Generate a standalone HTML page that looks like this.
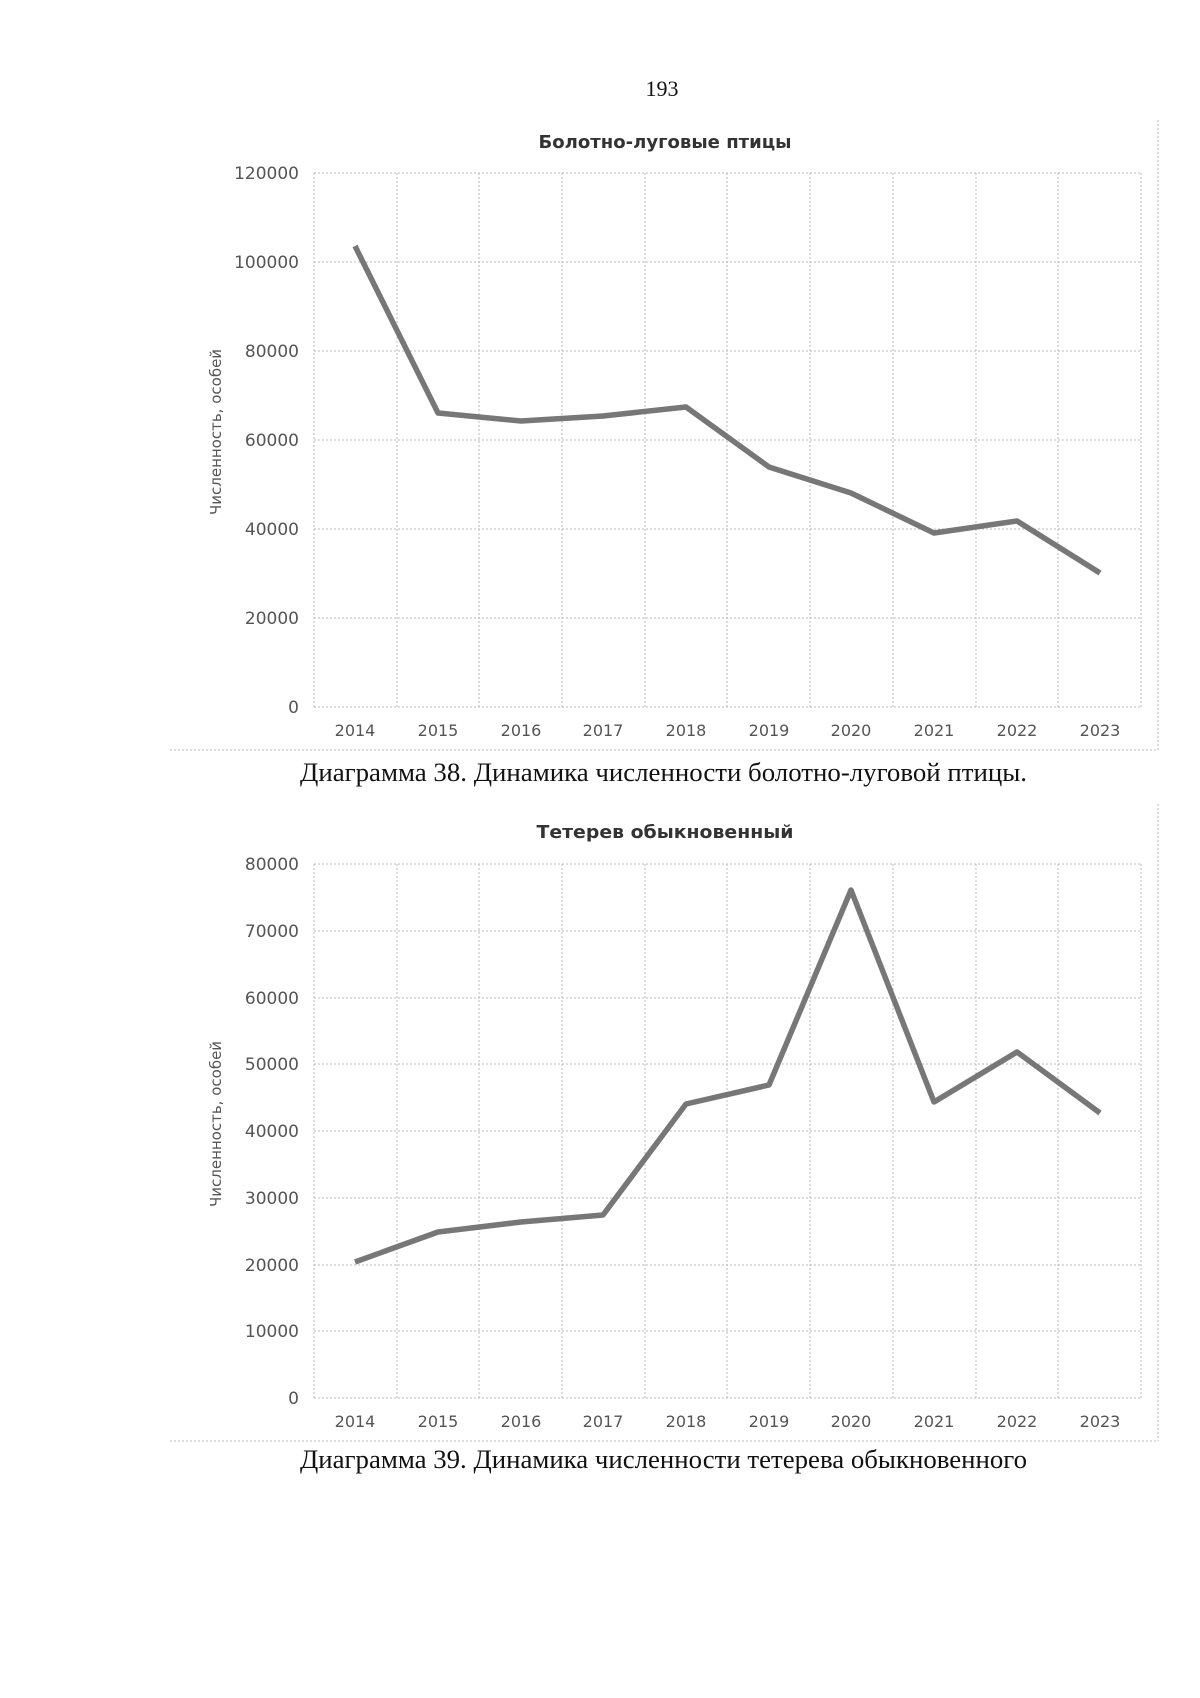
<!DOCTYPE html>
<html><head><meta charset="utf-8"><style>body{margin:0;background:#fff}svg{display:block}</style></head>
<body>
<svg width="1200" height="1698" viewBox="0 0 1200 1698" xmlns="http://www.w3.org/2000/svg">
<rect width="1200" height="1698" fill="#fff"/>
<text x="662" y="96" font-family="Liberation Serif, serif" font-size="22" text-anchor="middle" fill="#111">193</text>

<g id="c1">
<g stroke="#bbb" stroke-width="1" stroke-dasharray="2,2" fill="none">
<line x1="314" y1="173" x2="1141" y2="173"/><line x1="314" y1="262" x2="1141" y2="262"/>
<line x1="314" y1="351" x2="1141" y2="351"/><line x1="314" y1="440" x2="1141" y2="440"/>
<line x1="314" y1="529" x2="1141" y2="529"/><line x1="314" y1="618" x2="1141" y2="618"/>
<line x1="314" y1="707" x2="1141" y2="707"/>
<line x1="314" y1="173" x2="314" y2="707"/><line x1="397" y1="173" x2="397" y2="707"/>
<line x1="479" y1="173" x2="479" y2="707"/><line x1="562" y1="173" x2="562" y2="707"/>
<line x1="645" y1="173" x2="645" y2="707"/><line x1="727" y1="173" x2="727" y2="707"/>
<line x1="810" y1="173" x2="810" y2="707"/><line x1="893" y1="173" x2="893" y2="707"/>
<line x1="976" y1="173" x2="976" y2="707"/><line x1="1058" y1="173" x2="1058" y2="707"/>
<line x1="1141" y1="173" x2="1141" y2="707"/>
<line x1="1158" y1="120" x2="1158" y2="750"/><line x1="170" y1="750" x2="1158" y2="750"/>
</g>
<text x="665" y="148" font-family="DejaVu Sans, sans-serif" font-weight="bold" font-size="18" text-anchor="middle" fill="#333" textLength="253" lengthAdjust="spacingAndGlyphs">Болотно-луговые птицы</text>
<g font-family="DejaVu Sans, sans-serif" font-size="17" fill="#555" text-anchor="end">
<text x="299" y="179">120000</text><text x="299" y="268">100000</text><text x="299" y="357">80000</text>
<text x="299" y="446">60000</text><text x="299" y="535">40000</text><text x="299" y="624">20000</text><text x="299" y="713">0</text>
</g>
<g font-family="DejaVu Sans, sans-serif" font-size="16" fill="#555" text-anchor="middle">
<text x="355" y="736">2014</text><text x="438" y="736">2015</text><text x="521" y="736">2016</text><text x="603" y="736">2017</text><text x="686" y="736">2018</text><text x="769" y="736">2019</text><text x="851" y="736">2020</text><text x="934" y="736">2021</text><text x="1017" y="736">2022</text><text x="1100" y="736">2023</text>
</g>
<text transform="translate(221,432) rotate(-90)" font-family="DejaVu Sans, sans-serif" font-size="15" fill="#555" text-anchor="middle">Численность, особей</text>
<polyline fill="none" stroke="#777" stroke-width="5.5" stroke-linejoin="round" points="355,246 438,413 521,421 603,416 686,407 769,467 851,493 934,533 1017,521 1100,573"/>
<text x="300" y="781" font-family="Liberation Serif, serif" font-size="26" fill="#111" textLength="727" lengthAdjust="spacingAndGlyphs">Диаграмма 38. Динамика численности болотно-луговой птицы.</text>
</g>

<g id="c2">
<g stroke="#bbb" stroke-width="1" stroke-dasharray="2,2" fill="none">
<line x1="314" y1="864" x2="1141" y2="864"/><line x1="314" y1="931" x2="1141" y2="931"/>
<line x1="314" y1="998" x2="1141" y2="998"/><line x1="314" y1="1064" x2="1141" y2="1064"/>
<line x1="314" y1="1131" x2="1141" y2="1131"/><line x1="314" y1="1198" x2="1141" y2="1198"/>
<line x1="314" y1="1265" x2="1141" y2="1265"/><line x1="314" y1="1331" x2="1141" y2="1331"/>
<line x1="314" y1="1398" x2="1141" y2="1398"/>
<line x1="314" y1="864" x2="314" y2="1398"/><line x1="397" y1="864" x2="397" y2="1398"/>
<line x1="479" y1="864" x2="479" y2="1398"/><line x1="562" y1="864" x2="562" y2="1398"/>
<line x1="645" y1="864" x2="645" y2="1398"/><line x1="727" y1="864" x2="727" y2="1398"/>
<line x1="810" y1="864" x2="810" y2="1398"/><line x1="893" y1="864" x2="893" y2="1398"/>
<line x1="976" y1="864" x2="976" y2="1398"/><line x1="1058" y1="864" x2="1058" y2="1398"/>
<line x1="1141" y1="864" x2="1141" y2="1398"/>
<line x1="1158" y1="804" x2="1158" y2="1441"/><line x1="170" y1="1441" x2="1158" y2="1441"/>
</g>
<text x="665" y="838" font-family="DejaVu Sans, sans-serif" font-weight="bold" font-size="18" text-anchor="middle" fill="#333" textLength="257" lengthAdjust="spacingAndGlyphs">Тетерев обыкновенный</text>
<g font-family="DejaVu Sans, sans-serif" font-size="17" fill="#555" text-anchor="end">
<text x="299" y="870">80000</text><text x="299" y="937">70000</text><text x="299" y="1004">60000</text>
<text x="299" y="1070">50000</text><text x="299" y="1137">40000</text><text x="299" y="1204">30000</text>
<text x="299" y="1271">20000</text><text x="299" y="1337">10000</text><text x="299" y="1404">0</text>
</g>
<g font-family="DejaVu Sans, sans-serif" font-size="16" fill="#555" text-anchor="middle">
<text x="355" y="1427">2014</text><text x="438" y="1427">2015</text><text x="521" y="1427">2016</text><text x="603" y="1427">2017</text><text x="686" y="1427">2018</text><text x="769" y="1427">2019</text><text x="851" y="1427">2020</text><text x="934" y="1427">2021</text><text x="1017" y="1427">2022</text><text x="1100" y="1427">2023</text>
</g>
<text transform="translate(221,1124) rotate(-90)" font-family="DejaVu Sans, sans-serif" font-size="15" fill="#555" text-anchor="middle">Численность, особей</text>
<polyline fill="none" stroke="#777" stroke-width="5.5" stroke-linejoin="round" points="355,1262 438,1232 521,1222 603,1215 686,1104 769,1085 851,890 934,1102 1017,1052 1100,1113"/>
<text x="300" y="1468" font-family="Liberation Serif, serif" font-size="26" fill="#111" textLength="727" lengthAdjust="spacingAndGlyphs">Диаграмма 39. Динамика численности тетерева обыкновенного</text>
</g>
</svg>
</body></html>
